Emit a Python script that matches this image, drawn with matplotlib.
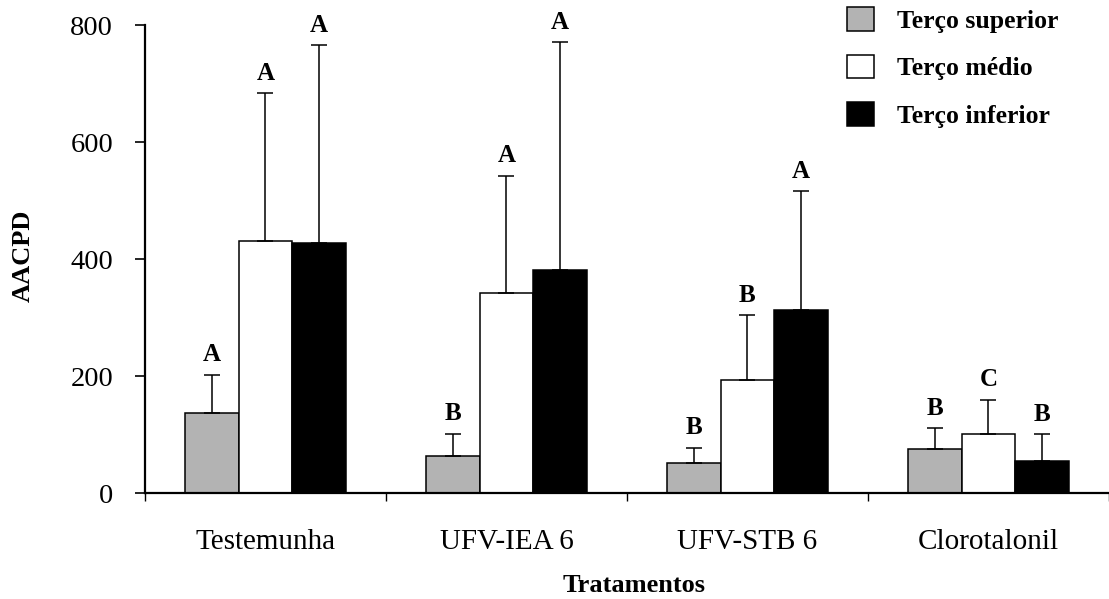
import numpy as np
import matplotlib
matplotlib.use('Agg')
from matplotlib import pyplot as plt
from matplotlib.patches import Patch

plt.rcParams['font.family'] = 'Liberation Serif'

# --- data
tratamentos = ['Testemunha', 'UFV-IEA 6', 'UFV-STB 6', 'Clorotalonil']
series = ['Terço superior', 'Terço médio', 'Terço inferior']
superior = [138, 63, 52, 75]
medio = [432, 342, 194, 101]
inferior = [428, 382, 313, 56]
err_superior = [65, 39, 26, 37]
err_medio = [252, 201, 111, 59]
err_inferior = [338, 389, 203, 45]
let_superior = ['A', 'B', 'B', 'B']
let_medio = ['A', 'A', 'B', 'C']
let_inferior = ['A', 'A', 'A', 'B']

cores = ['#b3b3b3', 'white', 'black']
valores = [superior, medio, inferior]
erros = [err_superior, err_medio, err_inferior]
letras = [let_superior, let_medio, let_inferior]

fig = plt.figure(figsize=(11.09, 5.99), dpi=100)
ax = fig.add_axes([0.1307, 0.1765, 0.8693, 0.7813])

centros = np.arange(len(tratamentos)) + 0.5
largura = 0.223

for k in range(3):
    xs = centros + (k - 1) * largura
    ax.bar(xs, valores[k], width=largura, color=cores[k], edgecolor='black',
           linewidth=1.1, zorder=2)
    ax.errorbar(xs, valores[k], yerr=[np.zeros(len(xs)), erros[k]], fmt='none',
                ecolor='black', elinewidth=1.1, capsize=6, capthick=1.1, zorder=3)
    for x, v, e, t in zip(xs, valores[k], erros[k], letras[k]):
        ax.annotate(t, (x, v + e), xytext=(0, 9.5), textcoords='offset points',
                    ha='center', va='baseline', fontsize=18, fontweight='bold')

ax.set_xlim(0, 4)
ax.set_ylim(0, 800)
ax.set_yticks([0, 200, 400, 600, 800])
ax.tick_params(axis='y', labelsize=20.5, length=7, width=1.2, direction='out', pad=16)

ax.set_xticks([0, 1, 2, 3, 4])
ax.set_xticklabels([])
ax.set_xticks(centros, minor=True)
ax.set_xticklabels(tratamentos, minor=True)
ax.tick_params(axis='x', which='major', length=6, width=1.0, direction='out')
ax.tick_params(axis='x', which='minor', length=0, labelsize=21, pad=26)

for s in ['top', 'right']:
    ax.spines[s].set_visible(False)
for s in ['left', 'bottom']:
    ax.spines[s].set_linewidth(1.6)

fig.text(0.021, 1 - 256 / 599, 'AACPD', rotation=90, ha='center', va='center',
         fontsize=19, fontweight='bold')
fig.text(0.5717, 1 - 585 / 599, 'Tratamentos', ha='center', va='center',
         fontsize=19, fontweight='bold')

handles = [Patch(facecolor=c, edgecolor='black', linewidth=1.1) for c in cores]
ax.legend(handles, series, loc='upper left', bbox_to_anchor=(847 / 1109, 1 - 7 / 599),
          bbox_transform=fig.transFigure, frameon=False, borderpad=0, borderaxespad=0,
          handlelength=1.05, handleheight=1.05, handletextpad=0.9, labelspacing=0.85,
          prop={'size': 18.5, 'weight': 'bold'})

fig.savefig('out.png', dpi=100)
